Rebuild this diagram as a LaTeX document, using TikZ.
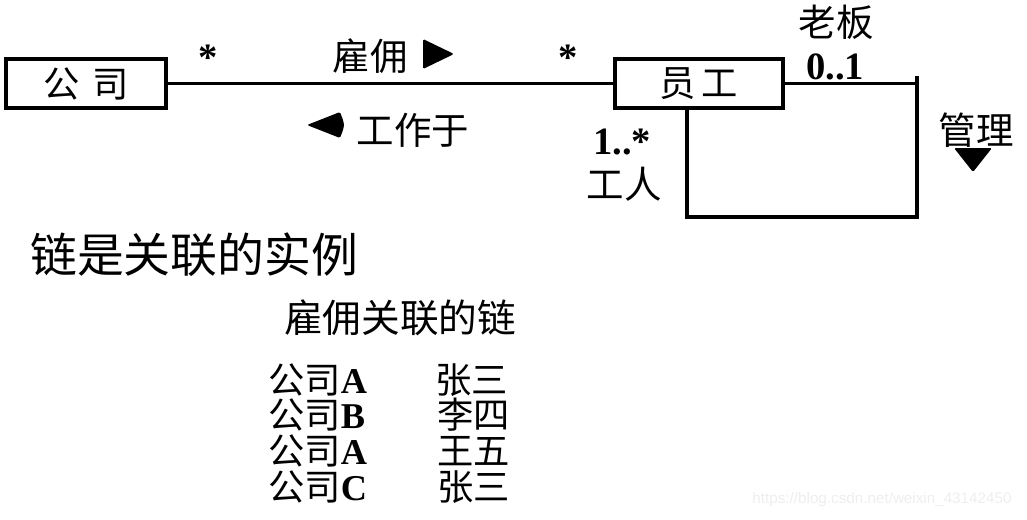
\documentclass[tikz,border=0pt]{standalone}
\usepackage{fontspec}
\setmainfont{Liberation Serif}
\newfontfamily\cjk{Noto Sans CJK SC}
\newfontfamily\wmfont{Liberation Sans}
\usetikzlibrary{calc}

\begin{document}
\begin{tikzpicture}[x=0.03cm,y=-0.03cm,
  classbox/.style={draw,line width=3.4pt,minimum width=#1,minimum height=1.47cm,inner sep=0pt,font=\cjk\fontsize{31}{34}\selectfont},
  link/.style={line width=3.4pt},
  lbl/.style={inner sep=0pt,font=\cjk\fontsize{32}{35}\selectfont},
  mult/.style={inner sep=0pt,font=\bfseries\fontsize{33}{36}\selectfont},
  dirmark/.style={fill=black,rounded corners=1.2pt},
  row/.style={anchor=west,inner sep=0pt,font=\cjk\fontsize{31}{34}\selectfont}]
\useasboundingbox (0,0) rectangle (1027,519);
% classes
\node[classbox=4.8cm] (gs) at (86,83.5) {公\hspace{0.35em}司};
\node[classbox=5.04cm] (yg) at (699,83.5) {员\hspace{0.15em}工};
% association
\draw[link] (gs.east) -- (yg.west);
\node[mult] (m1) at (208,58) {*};
\node[mult] (m2) at (568,58) {*};
\node[lbl] (gy) at (370,56) {雇佣};
\coordinate (r1) at (438,54);
\fill[dirmark,shift={(r1)}] (-15,-15) -- (16,0) -- (-15,15) -- cycle;
\coordinate (l1) at (325,125);
\fill[dirmark,shift={(l1)}] (-18,0) -- (15,-13) .. controls (20,0) .. (15,13) -- cycle;
\node[lbl] (gz) at (413,130) {工作于};
% self association
\coordinate (tr) at (917,76);
\coordinate (br) at (917,217);
\coordinate (bl) at (687,217);
\draw[link] (yg.east) -- (yg.east -| tr);
\draw[link] (tr) -- (br) -- (bl) -- (bl |- yg.south);
\node[lbl] (lb) at (836,22) {老板};
\node[mult] (m3) at (835,67) {0..1};
\node[lbl] (gl) at (976,130) {管理};
\coordinate (d1) at (973,159);
\fill[dirmark,shift={(d1)}] (-19,-11) -- (19,-11) -- (0,13) -- cycle;
\node[mult] (m4) at (622,142) {1..*};
\node[lbl] (gr) at (624,184) {工人};
% links
\node[inner sep=0pt,anchor=west,font=\cjk\fontsize{40}{43}\selectfont] (t1) at (30,255) {链是关联的实例};
\node[inner sep=0pt,font=\cjk\fontsize{33}{36}\selectfont] (t2) at (400,318) {雇佣关联的链};
\node[row] (a1) at (268,380) {公司\textrm{\bfseries A}};
\node[row] (a2) at (268,415) {公司\textrm{\bfseries B}};
\node[row] (a3) at (268,451) {公司\textrm{\bfseries A}};
\node[row] (a4) at (268,487) {公司\textrm{\bfseries C}};
\node[row] (b1) at (435,380) {张三};
\node[row] (b2) at (437,415) {李四};
\node[row] (b3) at (437,451) {王五};
\node[row] (b4) at (437,487) {张三};
\node[inner sep=0pt,text=gray!13,font=\wmfont\fontsize{13}{15}\selectfont] (wm) at (882,500) {https://blog.csdn.net/weixin\_43142450};
\end{tikzpicture}
\end{document}
